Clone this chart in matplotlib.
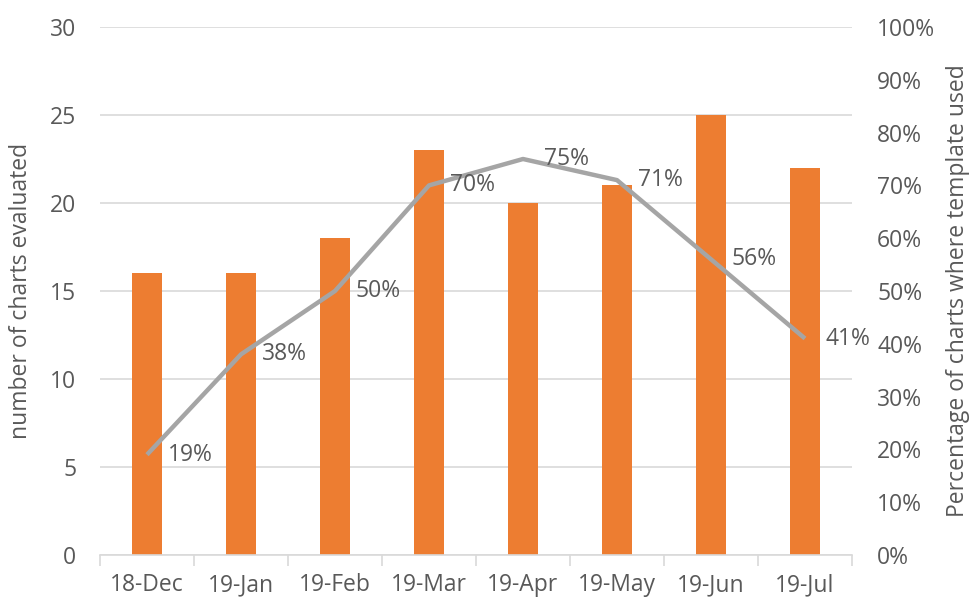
import matplotlib
matplotlib.use("Agg")
import matplotlib.pyplot as plt
from matplotlib.ticker import FixedLocator, FuncFormatter

plt.rcParams['font.family'] = ['Open Sans', 'DejaVu Sans']

months = ["18-Dec", "19-Jan", "19-Feb", "19-Mar", "19-Apr", "19-May", "19-Jun", "19-Jul"]
charts_evaluated = [16, 16, 18, 23, 20, 21, 25, 22]
template_pct = [19, 38, 50, 70, 75, 71, 56, 41]

bar_color = "#ED7D31"
line_color = "#A5A5A5"
text_color = "#595959"
grid_color = "#D9D9D9"
fs = 16.5

fig = plt.figure(figsize=(9.73, 6.0), dpi=100)
ax = fig.add_axes([100 / 973, 45 / 600, 752 / 973, 528 / 600])
x = list(range(len(months)))

ax.bar(x, charts_evaluated, width=0.32, color=bar_color, zorder=2)
ax.set_ylim(0, 30)
ax.set_xlim(-0.5, len(months) - 0.5)
ax.set_yticks(range(0, 31, 5))
ax.yaxis.grid(True, color=grid_color, linewidth=1.2, zorder=0)
ax.set_axisbelow(True)
for s in ["top", "right", "left"]:
    ax.spines[s].set_visible(False)
ax.spines["bottom"].set_color(grid_color)
ax.spines["bottom"].set_linewidth(1.2)

ax.set_xticks(x)
ax.set_xticklabels(months)
ax.tick_params(axis="x", length=0, pad=13, labelsize=fs, labelcolor=text_color)
ax.xaxis.set_minor_locator(FixedLocator([i - 0.5 for i in range(len(months) + 1)]))
ax.tick_params(axis="x", which="minor", length=8, color=grid_color, width=1.2)
ax.tick_params(axis="y", length=0, pad=17, labelsize=fs, labelcolor=text_color)
ax.set_ylabel("number of charts evaluated", fontsize=fs, color=text_color, labelpad=12)

ax2 = ax.twinx()
ax2.plot(x, template_pct, color=line_color, linewidth=3.2, zorder=3,
         solid_capstyle="butt")
ax2.set_ylim(0, 100)
ax2.set_yticks(range(0, 101, 10))
ax2.yaxis.set_major_formatter(FuncFormatter(lambda v, p: f"{int(v)}%"))
ax2.tick_params(axis="y", length=0, pad=18, labelsize=fs, labelcolor=text_color)
for s in ["top", "right", "left", "bottom"]:
    ax2.spines[s].set_visible(False)
ax2.set_ylabel("Percentage of charts where template used", fontsize=fs,
               color=text_color, labelpad=8)

for xi, v in zip(x, template_pct):
    ax2.annotate(f"{v}%", (xi, v), xytext=(15, 0), textcoords="offset points",
                 ha="left", va="center", fontsize=fs, color=text_color)

fig.savefig("out.png", dpi=100)
